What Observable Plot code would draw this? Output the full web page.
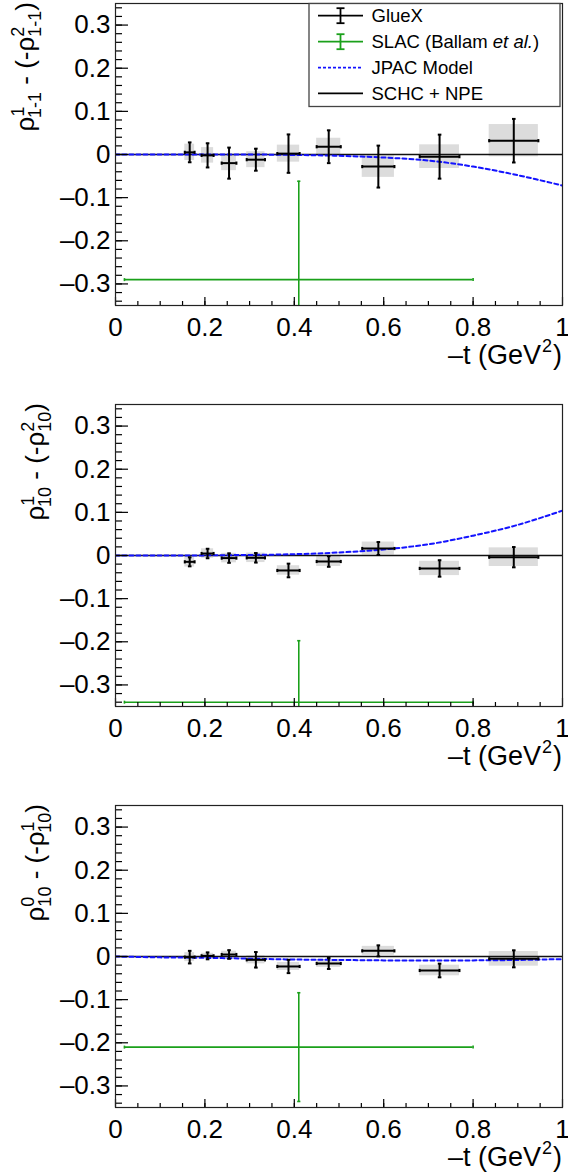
<!DOCTYPE html>
<html><head><meta charset="utf-8">
<script src="https://cdn.jsdelivr.net/npm/d3@7"></script>
<script src="https://cdn.jsdelivr.net/npm/@observablehq/plot@0.6"></script>
<style>body{margin:0;background:#fff;} svg{display:block;}</style>
</head><body><div id="c"></div>
<script>
// -t bin centres and half-widths (GlueX)
const tBins = [0.166, 0.206, 0.254, 0.314, 0.387, 0.477, 0.588, 0.725, 0.891];
const tErr  = [0.011, 0.0135, 0.0165, 0.0205, 0.025, 0.027, 0.036, 0.0445, 0.055];

// Panel 1: rho^1_{1-1} - (-rho^2_{1-1})
const p1Val  = [0.005, -0.002, -0.020, -0.012, 0.002, 0.018, -0.028, -0.005, 0.032];
const p1Stat = [0.023, 0.028, 0.036, 0.0255, 0.0445, 0.038, 0.0486, 0.051, 0.0505];
const p1Sys  = [0.019, 0.018, 0.0174, 0.0185, 0.0197, 0.0197, 0.025, 0.0274, 0.0374];
// Panel 2: rho^1_{10} - (-rho^2_{10})
const p2Val  = [-0.0147, 0.0046, -0.006, -0.0054, -0.0347, -0.0139, 0.0162, -0.030, -0.0039];
const p2Stat = [0.0104, 0.011, 0.011, 0.011, 0.0158, 0.0123, 0.015, 0.019, 0.0235];
const p2Sys  = [0.012, 0.011, 0.011, 0.011, 0.011, 0.0116, 0.015, 0.0166, 0.0216];
// Panel 3: rho^0_{10} - (-rho^1_{10})
const p3Val  = [-0.0015, 0.0015, 0.0046, -0.0077, -0.0231, -0.0162, 0.0131, -0.0324, -0.0054];
const p3Stat = [0.0146, 0.008, 0.010, 0.018, 0.0154, 0.0127, 0.0127, 0.0158, 0.0197];
const p3Sys  = [0.0104, 0.006, 0.0077, 0.0093, 0.0093, 0.009, 0.0104, 0.0123, 0.017];

// JPAC model curves
const jpacT = [0, 0.1, 0.2, 0.3, 0.4, 0.5, 0.6, 0.7, 0.8, 0.9, 1.0];
const jpac1 = [0, 0, 0, 0, -0.001, -0.003, -0.007, -0.014, -0.028, -0.048, -0.072];
const jpac2 = [0, 0, 0.0003, 0.0013, 0.003, 0.007, 0.014, 0.026, 0.046, 0.071, 0.104];
const jpac3 = [0, -0.002, -0.003, -0.005, -0.007, -0.008, -0.009, -0.009, -0.009, -0.008, -0.006];

// SLAC (Ballam et al.): one point per panel
const slacT = 0.41, slacLo = 0.02, slacHi = 0.80;
const slacVal = [-0.29, -0.34, -0.21];
const slacErr = [0.228, 0.1425, 0.126];

// SCHC + NPE expectation
const schc = [0];

// axis ticks
const xMajor = [0, 0.2, 0.4, 0.6, 0.8, 1];
const xMinor = d3.range(0.05, 1, 0.05).map(d => +d.toFixed(2));
const yMajor = [-0.3, -0.2, -0.1, 0, 0.1, 0.2, 0.3];
const yMinor = d3.range(-0.34, 0.35, 0.02).map(d => +d.toFixed(2));

const FONT = "'Liberation Sans', Arial, Helvetica, sans-serif";
const GREEN = "#1aa01a", BLUE = "#1414ff";
const W = 568, ML = 115, MR = 6, MT = 3, PLOT_BOTTOM = 305;

const capH = {draw(c, s){ const r = Math.sqrt(s/Math.PI); c.moveTo(-r,0); c.lineTo(r,0); }};
const capV = {draw(c, s){ const r = Math.sqrt(s/Math.PI); c.moveTo(0,-r); c.lineTo(0,r); }};

function panel({val, stat, sys, jpac, k, height, lab, labX}) {
  const pts = tBins.map((t,i) => ({t, dt: tErr[i], v: val[i], e: stat[i], s: sys[i]}));
  const jp = jpacT.map((t,i) => ({t, v: jpac[i]}));
  const sl = [{t: slacT, lo: slacLo, hi: slacHi, v: slacVal[k], e: slacErr[k]}];
  const innerH = PLOT_BOTTOM - MT, innerW = W - ML - MR;
  const svg = Plot.plot({
    width: W, height, marginLeft: ML, marginRight: MR, marginTop: MT, marginBottom: height - PLOT_BOTTOM,
    style: {fontFamily: FONT, fontSize: "26px", color: "#000", background: "#fff", overflow: "visible"},
    x: {domain: [0, 1]},
    y: {domain: [-0.35, 0.35]},
    marks: [
      Plot.rect(pts, {x1: d => d.t - d.dt, x2: d => d.t + d.dt, y1: d => d.v - d.s, y2: d => d.v + d.s, fill: "#dcdcdc", clip: true}),
      Plot.ruleY(schc, {stroke: "#111", strokeWidth: 1.6}),
      Plot.line(jp, {x: "t", y: "v", stroke: BLUE, strokeWidth: 2, strokeDasharray: "4,3", curve: "catmull-rom", clip: true}),
      // GlueX
      Plot.ruleX(pts, {x: "t", y1: d => d.v - d.e, y2: d => d.v + d.e, stroke: "#000", strokeWidth: 2, clip: true}),
      Plot.ruleY(pts, {y: "v", x1: d => d.t - d.dt, x2: d => d.t + d.dt, stroke: "#000", strokeWidth: 2, clip: true}),
      Plot.dot(pts, {x: "t", y: d => d.v + d.e, symbol: capH, r: 1.8, stroke: "#000", strokeWidth: 2}),
      Plot.dot(pts, {x: "t", y: d => d.v - d.e, symbol: capH, r: 1.8, stroke: "#000", strokeWidth: 2}),
      Plot.dot(pts, {x: d => d.t - d.dt, y: "v", symbol: capV, r: 1.6, stroke: "#000", strokeWidth: 2}),
      Plot.dot(pts, {x: d => d.t + d.dt, y: "v", symbol: capV, r: 1.6, stroke: "#000", strokeWidth: 2}),
      // SLAC
      Plot.ruleX(sl, {x: "t", y1: d => d.v - d.e, y2: d => d.v + d.e, stroke: GREEN, strokeWidth: 1.6, clip: true}),
      Plot.ruleY(sl, {y: "v", x1: "lo", x2: "hi", stroke: GREEN, strokeWidth: 1.6, clip: true}),
      Plot.dot(sl, {x: "t", y: d => d.v + d.e, symbol: capH, r: 1.6, stroke: GREEN, strokeWidth: 1.6, clip: true}),
      Plot.dot(sl, {x: "t", y: d => d.v - d.e, symbol: capH, r: 1.6, stroke: GREEN, strokeWidth: 1.6, clip: true}),
      Plot.dot(sl, {x: "lo", y: "v", symbol: capV, r: 1.5, stroke: GREEN, strokeWidth: 1.6, clip: true}),
      Plot.dot(sl, {x: "hi", y: "v", symbol: capV, r: 1.5, stroke: GREEN, strokeWidth: 1.6, clip: true}),
      // inside ticks
      Plot.tickY(yMajor, {y: d => d, insetRight: innerW - 13, stroke: "#000", strokeWidth: 1.2}),
      Plot.tickY(yMinor, {y: d => d, insetRight: innerW - 7, stroke: "#000", strokeWidth: 1.2}),
      Plot.tickX(xMajor, {x: d => d, insetTop: innerH - 8, stroke: "#000", strokeWidth: 1.2}),
      Plot.tickX(xMinor, {x: d => d, insetTop: innerH - 4, stroke: "#000", strokeWidth: 1.2}),
      Plot.frame({stroke: "#222", strokeWidth: 1.2}),
      Plot.axisY({ticks: yMajor, tickSize: 0, tickPadding: 5, label: null,
                  tickFormat: d => (d < 0 ? "\u2013" : "") + Math.abs(d)}),
      Plot.axisX({ticks: xMajor, tickSize: 0, tickPadding: 12, label: null,
                  tickFormat: d => String(d)})
    ]
  });
  const s = d3.select(svg);
  // x-axis title
  const xt = s.append("text").attr("x", 562).attr("y", 364).attr("text-anchor", "end")
    .attr("font-size", 27).attr("font-family", FONT).attr("fill", "#000");
  xt.append("tspan").text("\u2013t (GeV");
  xt.append("tspan").attr("font-size", 18).attr("dx", 1).attr("dy", -12).text("2");
  xt.append("tspan").attr("dx", 1).attr("dy", 12).text(")");
  // y-axis title (rotated), ROOT-style stacked super/subscripts
  const yt = s.append("text").attr("transform", `translate(${labX},2) rotate(-90)`)
    .attr("text-anchor", "end").attr("font-size", 26).attr("font-family", FONT).attr("fill", "#000");
  const ss = 18;
  const w = str => str.length * 0.556 * ss - (str.includes("-") ? (0.556 - 0.333) * ss : 0);
  yt.append("tspan").text("\u03C1");
  yt.append("tspan").attr("font-size", ss).attr("dy", -10).text(lab[0]);
  yt.append("tspan").attr("font-size", ss).attr("dx", -w(lab[0])).attr("dy", 17).text(lab[1]);
  yt.append("tspan").attr("dy", -7).text(" - (-\u03C1");
  yt.append("tspan").attr("font-size", ss).attr("dy", -10).text(lab[2]);
  yt.append("tspan").attr("font-size", ss).attr("dx", -w(lab[2])).attr("dy", 17).text(lab[3]);
  yt.append("tspan").attr("dy", -7).text(")");
  return svg;
}

const root = document.getElementById("c");
const s1 = panel({val: p1Val, stat: p1Stat, sys: p1Sys, jpac: jpac1, k: 0, height: 401, lab: ["1","1-1","2","1-1"], labX: 34});
const s2 = panel({val: p2Val, stat: p2Stat, sys: p2Sys, jpac: jpac2, k: 1, height: 401, lab: ["1","10","2","10"], labX: 44});
const s3 = panel({val: p3Val, stat: p3Stat, sys: p3Sys, jpac: jpac3, k: 2, height: 371, lab: ["0","10","1","10"], labX: 44});
root.append(s1, s2, s3);

// Legend (panel 1)
const legendItems = ["GlueX", "SLAC", "JPAC Model", "SCHC + NPE"];
const g = d3.select(s1).append("g").attr("font-family", FONT).attr("font-size", 18.5)
  .attr("fill", "#000").attr("text-anchor", "start");
g.append("rect").attr("x", 309).attr("y", 3.5).attr("width", 251).attr("height", 103)
  .attr("fill", "#fff").attr("stroke", "#444").attr("stroke-width", 1.3);
const rows = [15.7, 41.7, 67.7, 93.3];
const base = [21.7, 47.7, 74, 100];
// GlueX
g.append("line").attr("x1", 318).attr("x2", 363).attr("y1", rows[0]).attr("y2", rows[0]).attr("stroke", "#000").attr("stroke-width", 1.8);
g.append("line").attr("x1", 340.5).attr("x2", 340.5).attr("y1", rows[0]-7.5).attr("y2", rows[0]+7.5).attr("stroke", "#000").attr("stroke-width", 1.8);
[rows[0]-7.5, rows[0]+7.5].forEach(y => g.append("line").attr("x1", 336.5).attr("x2", 344.5).attr("y1", y).attr("y2", y).attr("stroke", "#000").attr("stroke-width", 1.8));
// SLAC
g.append("line").attr("x1", 318).attr("x2", 363).attr("y1", rows[1]).attr("y2", rows[1]).attr("stroke", GREEN).attr("stroke-width", 1.8);
g.append("line").attr("x1", 340.5).attr("x2", 340.5).attr("y1", rows[1]-7.5).attr("y2", rows[1]+7.5).attr("stroke", GREEN).attr("stroke-width", 1.8);
[rows[1]-7.5, rows[1]+7.5].forEach(y => g.append("line").attr("x1", 336.5).attr("x2", 344.5).attr("y1", y).attr("y2", y).attr("stroke", GREEN).attr("stroke-width", 1.8));
// JPAC
g.append("line").attr("x1", 318).attr("x2", 363).attr("y1", rows[2]).attr("y2", rows[2]).attr("stroke", BLUE).attr("stroke-width", 1.8).attr("stroke-dasharray", "3,2");
// SCHC
g.append("line").attr("x1", 318).attr("x2", 363).attr("y1", rows[3]).attr("y2", rows[3]).attr("stroke", "#000").attr("stroke-width", 1.8);
// texts
g.append("text").attr("x", 371.5).attr("y", base[0]).text(legendItems[0]);
const t2 = g.append("text").attr("x", 371.5).attr("y", base[1]);
t2.append("tspan").text(legendItems[1] + " (Ballam ");
t2.append("tspan").attr("font-style", "italic").text("et al.");
t2.append("tspan").text(")");
g.append("text").attr("x", 371.5).attr("y", base[2]).text(legendItems[2]);
g.append("text").attr("x", 371.5).attr("y", base[3]).text(legendItems[3]);
</script>
</body></html>
